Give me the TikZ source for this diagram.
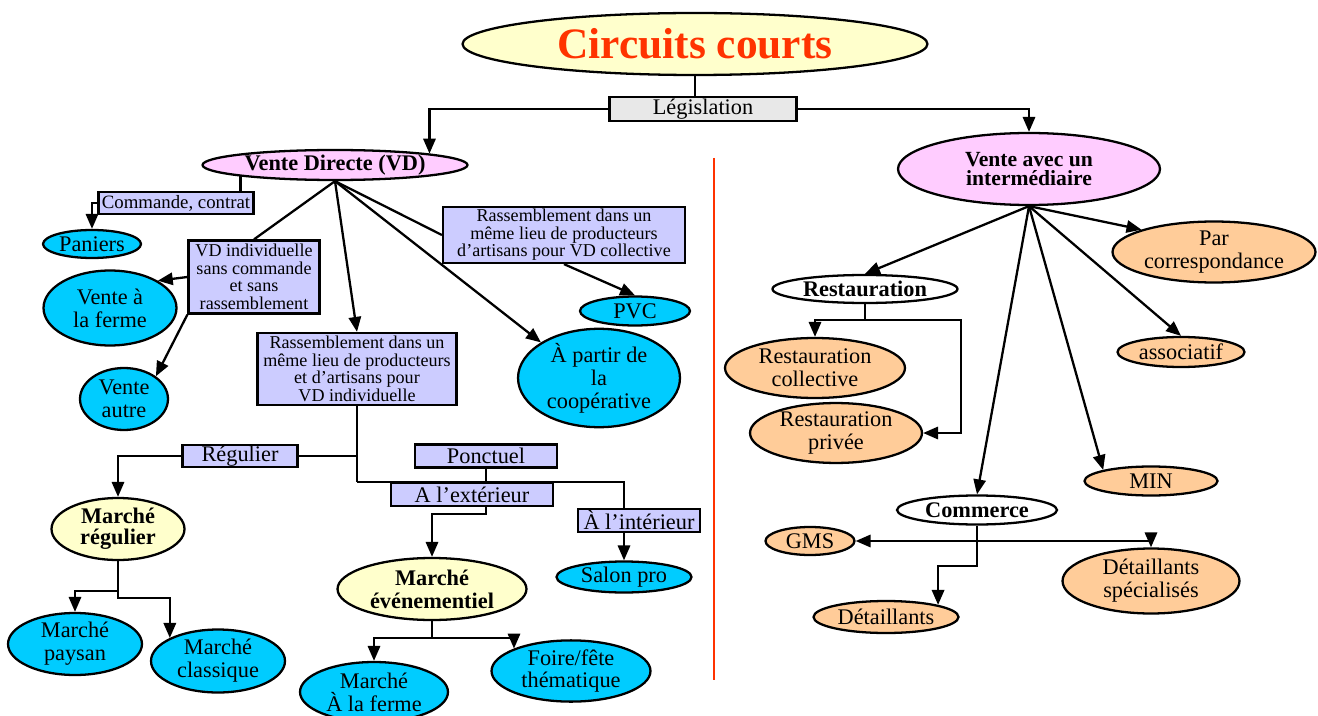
\documentclass[tikz,border=0pt]{standalone}
\usepackage{fontspec}
\setmainfont{Liberation Serif}
\usetikzlibrary{shapes.geometric,arrows.meta,calc,backgrounds}
\definecolor{paleyellow}{HTML}{FFFFCC}
\definecolor{titlered}{HTML}{FF3300}
\definecolor{pinkfill}{HTML}{FFCCFF}
\definecolor{cyanfill}{HTML}{00CCFF}
\definecolor{lavender}{HTML}{CCCCFF}
\definecolor{peach}{HTML}{FFCC99}
\definecolor{legisgray}{HTML}{E8E8E8}
\tikzset{
  oval/.style={ellipse, draw, line width=1.3pt, inner sep=0pt, align=center,
    font=\fontsize{12.7}{13}\selectfont},
  boldoval/.style={oval, font=\fontsize{12.7}{12}\bfseries\selectfont},
  blueoval/.style={oval, fill=cyanfill},
  peachoval/.style={oval, fill=peach},
  labelbox/.style={rectangle, draw, line width=1.3pt, fill=lavender, inner sep=0pt,
    align=center, font=\fontsize{12.7}{13}\selectfont},
  textbox/.style={labelbox, font=\fontsize{10.3}{10}\selectfont},
  link/.style={line width=1.3pt},
  arr/.style={link, -{Triangle[length=8.5pt,width=7pt]}}
}
\begin{document}
\begin{tikzpicture}[x=0.02cm, y=-0.02cm]
    \useasboundingbox (0,0) rectangle (1318,716);
    % Title and legislation
    \node[oval, fill=paleyellow, minimum width=9.3cm, minimum height=1.24cm,
        font=\fontsize{24.7}{26}\bfseries\selectfont, text=titlered] (title) at (695,44) {Circuits courts};
    \node[labelbox, fill=legisgray, minimum width=3.74cm, minimum height=0.48cm] (leg) at (703,109) {Législation};
    % Direct selling branch
    \node[boldoval, fill=pinkfill, minimum width=5.3cm, minimum height=0.6cm] (vd) at (335,165) {Vente Directe (VD)};
    \node[textbox, minimum width=3.1cm, minimum height=0.44cm, font=\fontsize{10.7}{11}\selectfont] (cmd) at (176,203) {Commande, contrat};
    \node[blueoval, minimum width=1.96cm, minimum height=0.56cm] (pan) at (92,244) {Paniers};
    \node[textbox, minimum width=2.62cm, minimum height=1.46cm] (ind) at (254,277)
        {VD individuelle\\sans commande\\et sans\\rassemblement};
    \node[blueoval, minimum width=2.66cm, minimum height=1.5cm] (ferme) at (110,308) {Vente à\\la ferme};
    \node[blueoval, minimum width=1.76cm, minimum height=1.24cm] (autre) at (124,399) {Vente\\autre};
    \node[textbox, minimum width=4.84cm, minimum height=1.12cm] (coll) at (564,235)
        {Rassemblement dans un\\même lieu de producteurs\\d’artisans pour VD collective};
    \node[blueoval, minimum width=2.2cm, minimum height=0.58cm] (pvc) at (635,311) {PVC};
    \node[textbox, minimum width=3.98cm, minimum height=1.44cm] (ind2) at (357,369)
        {Rassemblement dans un\\même lieu de producteurs\\et d’artisans pour\\VD individuelle};
    \node[blueoval, minimum width=3.24cm, minimum height=1.94cm] (coop) at (599,378) {À partir de\\la\\coopérative};
    % Markets
    \node[labelbox, minimum width=2.3cm, minimum height=0.44cm] (reg) at (240,456) {Régulier};
    \node[labelbox, minimum width=2.84cm, minimum height=0.46cm] (pon) at (486,456) {Ponctuel};
    \node[labelbox, minimum width=3.24cm, minimum height=0.46cm] (ext) at (472,494.5) {A l’extérieur};
    \node[labelbox, minimum width=2.44cm, minimum height=0.46cm] (int) at (639,520.5) {À l’intérieur};
    \node[boldoval, fill=paleyellow, minimum width=2.66cm, minimum height=1.24cm] (mreg) at (118,529) {Marché\\régulier};
    \node[blueoval, minimum width=2.68cm, minimum height=1.24cm] (pay) at (75,644) {Marché\\paysan};
    \node[blueoval, minimum width=2.68cm, minimum height=1.26cm] (cla) at (218,661) {Marché\\classique};
    \node[boldoval, fill=paleyellow, minimum width=3.78cm, minimum height=1.24cm, font=\fontsize{12.7}{13}\bfseries\selectfont] (mev) at (432,589) {Marché\\événementiel};
    \node[blueoval, minimum width=2.7cm, minimum height=0.62cm] (salon) at (624,577) {Salon pro};
    \node[blueoval, minimum width=2.96cm, minimum height=1.2cm] (mfer) at (374,692) {Marché\\À la ferme};
    \node[blueoval, minimum width=3.18cm, minimum height=1.16cm] (foi) at (571,671) {Foire/fête\\thématique};
    % Separator
    \draw[titlered, line width=1.4pt] (714,158) -- (714,680);
    % Selling through an intermediary
    \node[boldoval, fill=pinkfill, minimum width=5.24cm, minimum height=1.44cm, font=\fontsize{12.3}{11}\bfseries\selectfont] (vai) at (1029,169) {Vente avec un\\intermédiaire};
    \node[boldoval, fill=white, minimum width=3.7cm, minimum height=0.56cm] (rest) at (865,289) {Restauration};
    \node[peachoval, minimum width=3.6cm, minimum height=1.2cm] (rcol) at (815,368) {Restauration\\collective};
    \node[peachoval, minimum width=3.44cm, minimum height=1.18cm] (rpri) at (836,433) {Restauration\\privée};
    \node[peachoval, minimum width=4.06cm, minimum height=1.22cm] (corr) at (1214,252) {Par\\correspondance};
    \node[peachoval, minimum width=2.54cm, minimum height=0.6cm] (asso) at (1181,352) {associatif};
    \node[peachoval, minimum width=2.66cm, minimum height=0.58cm] (min) at (1151,481) {MIN};
    \node[boldoval, fill=white, minimum width=3.2cm, minimum height=0.58cm] (com) at (977,510) {Commerce};
    \node[peachoval, minimum width=1.78cm, minimum height=0.56cm] (gms) at (810,541) {GMS};
    \node[peachoval, minimum width=3.54cm, minimum height=1.3cm] (dspec) at (1151,581) {Détaillants\\spécialisés};
    \node[peachoval, minimum width=2.9cm, minimum height=0.64cm] (det) at (886,617) {Détaillants};
    % Connectors
    \begin{scope}[on background layer]
        \draw[link] (title.south) -- (title.south |- leg.north);
        \draw[arr] (leg.west) -| (vd.north east);
        \draw[arr] (leg.east) -| (vai.north);
        \draw[link] (vd.south west) -- (vd.south west |- cmd.north);
        \draw[arr] (cmd.west) -| (pan.north);
        \draw[link] (vd.south) -- (ind.north);
        \draw[arr] (ind.west) -- (ferme.north east);
        \draw[arr] (ind.south west) -- (autre.north east);
        \draw[link] (vd.south) -- (coll.west);
        \draw[arr] (coll.south) -- (pvc.north);
        \draw[arr] (vd.south) -- (ind2.north);
        \draw[arr] (vd.south) -- (coop.north west);
        % regular / occasional markets
        \coordinate (jreg) at (ind2.south |- reg.east);
        \coordinate (jext) at (ind2.south |- ext.north);
        \coordinate (kext) at ($(pon.south |- ext.south)+(0,7)$);
        \draw[link] (ind2.south) -- (jext);
        \draw[link] (jreg) -- (reg.east);
        \draw[arr] (reg.west) -| (mreg.north);
        \draw[arr] (jext) -| (salon.north);
        \draw[arr] (pon.south) -- (kext) -| (mev.north);
        \coordinate (kpay) at ($(mreg.south)+(0,30)$);
        \coordinate (kcla) at ($(mreg.south)+(0,37)$);
        \draw[arr] (mreg.south) -- (kcla) -| (cla.north west);
        \draw[arr] (kpay) -| (pay.north);
        \coordinate (kmev) at ($(mev.south)+(0,17)$);
        \draw[arr] (mev.south) -- (kmev) -| (mfer.north);
        \draw[arr] (kmev) -| (foi.north west);
        % intermediary side
        \draw[arr] (vai.south) -- (rest.north);
        \draw[arr] (vai.south) -- (corr.north west);
        \draw[arr] (vai.south) -- (asso.north);
        \draw[arr] (vai.south) -- (min.north west);
        \draw[arr] (vai.south) -- (com.north);
        \coordinate (krest) at ($(rest.south)+(0,16)$);
        \coordinate (kpri) at ($(rpri.east)+(38,0)$);
        \draw[arr] (rest.south) -- (krest) -| (rcol.north);
        \draw[arr] (krest) -| (kpri) -- (rpri.east);
        \coordinate (kcom) at (com.south |- gms.east);
        \coordinate (kdet) at ($(com.south)+(0,40)$);
        \draw[arr] (kcom) -- (gms.east);
        \draw[arr] (kcom) -| (dspec.north);
        \draw[arr] (com.south) -- (kdet) -| (det.north east);
    \end{scope}
\end{tikzpicture}
\end{document}
